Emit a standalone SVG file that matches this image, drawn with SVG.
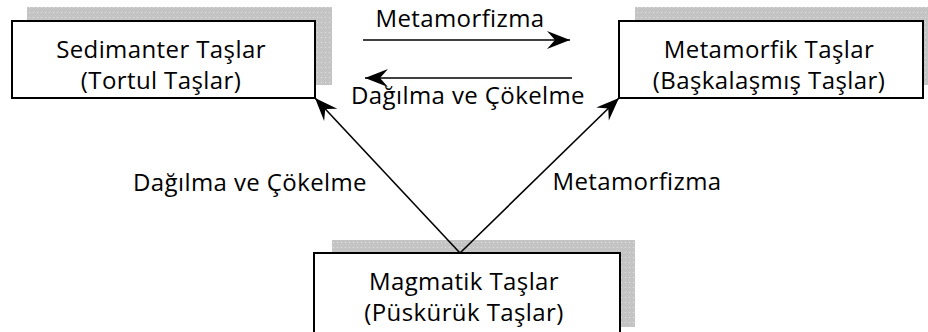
<svg xmlns="http://www.w3.org/2000/svg" width="928" height="332" viewBox="0 0 928 332">
<defs>
<pattern id="dots" width="4" height="5" patternUnits="userSpaceOnUse">
<rect width="4" height="5" fill="#c4c4c4"/>
<rect x="1" y="2" width="1" height="1" fill="#e2e2e2"/>
</pattern>
<marker id="ah" markerUnits="userSpaceOnUse" markerWidth="30" markerHeight="24" viewBox="-24 -12 30 24" refX="0" refY="0" orient="auto">
<path d="M0,0 L-23,-9 L-15,0 L-23,9 Z" fill="#000"/>
</marker>
</defs>
<style>
.shadow{fill:url(#dots);}
.box{fill:#fff;stroke:#000;stroke-width:2;}
.t{font-family:"Open Sans","Noto Sans",sans-serif;font-size:24px;fill:#000;text-anchor:middle;letter-spacing:0.4px;}
.conn{stroke:#000;stroke-width:1.6;fill:none;marker-end:url(#ah);}
</style>
<g id="sedimanter">
<rect class="shadow" x="27" y="7" width="305" height="78"/>
<rect class="box" x="12" y="21" width="303" height="77"/>
<text class="t" x="161" y="58">Sedimanter Taşlar</text>
<text class="t" x="161" y="89">(Tortul Taşlar)</text>
</g>
<g id="metamorfik">
<rect class="shadow" x="635" y="7" width="293" height="78"/>
<rect class="box" x="619" y="21" width="304" height="77"/>
<text class="t" x="769" y="58">Metamorfik Taşlar</text>
<text class="t" x="769" y="89">(Başkalaşmış Taşlar)</text>
</g>
<g id="magmatik">
<rect class="shadow" x="332" y="240" width="303" height="87"/>
<rect class="box" x="314" y="253" width="306" height="90"/>
<text class="t" x="464" y="290">Magmatik Taşlar</text>
<text class="t" x="464" y="321">(Püskürük Taşlar)</text>
</g>
<g id="connectors">
<line class="conn" x1="363" y1="40" x2="570" y2="40"/>
<line class="conn" x1="572" y1="78" x2="365" y2="78"/>
<line class="conn" x1="460" y1="253" x2="315" y2="98"/>
<line class="conn" x1="460" y1="253" x2="619" y2="98"/>
<text class="t" x="460" y="27">Metamorfizma</text>
<text class="t" x="468" y="104">Dağılma ve Çökelme</text>
<text class="t" x="250" y="191">Dağılma ve Çökelme</text>
<text class="t" x="637" y="190">Metamorfizma</text>
</g>
</svg>
